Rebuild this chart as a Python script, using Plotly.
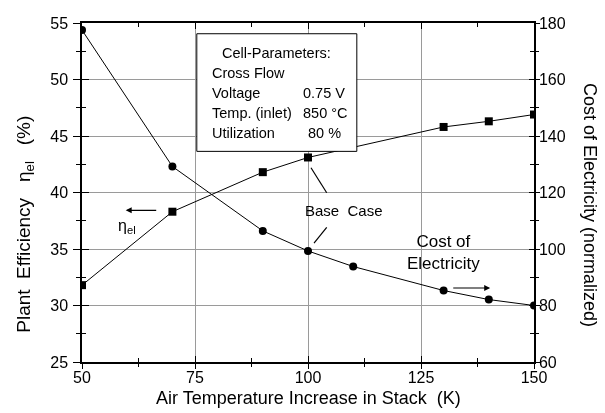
import plotly.graph_objects as go

# ---- data ----
temp_eff = [50, 70, 90, 100, 130, 140, 150]
efficiency = [31.8, 38.3, 41.8, 43.1, 45.8, 46.3, 46.9]
temp_cost = [50, 70, 90, 100, 110, 130, 140, 150]
cost = [177.5, 129.2, 106.4, 99.3, 93.8, 85.3, 82.1, 80.0]

x_ticks = [50, 75, 100, 125, 150]
y_left_ticks = [25, 30, 35, 40, 45, 50, 55]
y_right_ticks = [60, 80, 100, 120, 140, 160, 180]

box_lines = [("Cross Flow", ""), ("Voltage", "0.75 V"), ("Temp. (inlet)", "850 °C"), ("Utilization", "80 %")]

NB = "\u00a0"
FONT = "Liberation Sans, Arial, sans-serif"
fig = go.Figure()

fig.add_trace(go.Scatter(x=temp_eff, y=efficiency, mode="lines+markers",
                         line=dict(color="black", width=1),
                         marker=dict(symbol="square", size=8, color="black"),
                         xaxis="x", yaxis="y", showlegend=False))
fig.add_trace(go.Scatter(x=temp_cost, y=cost, mode="lines+markers",
                         line=dict(color="black", width=1),
                         marker=dict(symbol="circle", size=8, color="black"),
                         xaxis="x", yaxis="y2", showlegend=False))
# transparent copies to register the tick-overlay axes
fig.add_trace(go.Scatter(x=temp_eff, y=efficiency, mode="markers", opacity=0, hoverinfo="skip",
                         xaxis="x3", yaxis="y3", showlegend=False))
fig.add_trace(go.Scatter(x=temp_cost, y=cost, mode="markers", opacity=0, hoverinfo="skip",
                         xaxis="x3", yaxis="y4", showlegend=False))

tickfont = dict(family=FONT, size=16, color="black")
minor_common = dict(tickcolor="black", showgrid=False, tickwidth=1)

fig.update_layout(
    width=605, height=413,
    margin=dict(l=82, r=71, t=23, b=51),
    plot_bgcolor="white", paper_bgcolor="white",
    font=dict(family=FONT, color="black"),
    xaxis=dict(range=[50, 150], tickvals=x_ticks, ticks="inside", ticklen=6, tickwidth=1,
               tickcolor="black", showline=True, linecolor="black", linewidth=1.5, mirror="ticks",
               showgrid=True, gridcolor="#9a9a9a", gridwidth=1,
               zeroline=False, tickfont=tickfont,
               minor=dict(tick0=50, dtick=12.5, ticks="inside", ticklen=4, **minor_common)),
    xaxis3=dict(range=[50, 150], overlaying="x", side="bottom", anchor="y", tickvals=x_ticks,
                ticks="outside", ticklen=6, tickwidth=1, tickcolor="black", showticklabels=False,
                showgrid=False, showline=False, zeroline=False,
                minor=dict(tick0=50, dtick=12.5, ticks="outside", ticklen=4, **minor_common)),
    yaxis=dict(range=[25, 55], tickvals=y_left_ticks, ticks="outside", ticklen=7, tickwidth=1,
               tickcolor="black", showline=True, linecolor="black", linewidth=1.5, showgrid=True,
               gridcolor="#9a9a9a", zeroline=False, tickfont=tickfont, ticklabelstandoff=2,
               minor=dict(tick0=25, dtick=2.5, ticks="outside", ticklen=4, **minor_common)),
    yaxis3=dict(range=[25, 55], overlaying="y", side="left", anchor="x", tickvals=y_left_ticks,
                ticks="inside", ticklen=7, tickwidth=1, tickcolor="black", showticklabels=False,
                showgrid=False, showline=False, zeroline=False,
                minor=dict(tick0=25, dtick=2.5, ticks="inside", ticklen=4, **minor_common)),
    yaxis2=dict(range=[60, 180], overlaying="y", side="right", anchor="x", tickvals=y_right_ticks,
                ticks="inside", ticklen=5, tickwidth=1, tickcolor="black", showline=True,
                linecolor="black", linewidth=1.5, showgrid=False, zeroline=False, tickfont=tickfont,
                minor=dict(tick0=60, dtick=10, ticks="inside", ticklen=4, **minor_common)),
    yaxis4=dict(range=[60, 180], overlaying="y", side="right", anchor="x", tickvals=y_right_ticks,
                ticks="outside", ticklen=5, tickwidth=1, tickcolor="black", showticklabels=False,
                showgrid=False, showline=False, zeroline=False,
                minor=dict(tick0=60, dtick=10, ticks="outside", ticklen=4, **minor_common)),
)

# parameter box
fig.add_shape(type="rect", xref="x", yref="y", x0=75.4, x1=110.8, y0=43.64, y1=54.05,
              line=dict(color="black", width=1), fillcolor="white", layer="above")
ann = []
ann.append(dict(x=93.1, y=52.37, xref="x", yref="y", text="Cell-Parameters:", showarrow=False,
                font=dict(size=14.5), xanchor="center", yanchor="middle"))
line_y = [50.58, 48.81, 47.04, 45.27]
right_x = [None, 98.45, 98.4, 99.6]
for (lab, val), yy, rx in zip(box_lines, line_y, right_x):
    ann.append(dict(x=78.3, y=yy, xref="x", yref="y", text=lab, showarrow=False,
                    font=dict(size=14.5), xanchor="left", yanchor="middle"))
    if val:
        ann.append(dict(x=rx, y=yy, xref="x", yref="y", text=val, showarrow=False,
                        font=dict(size=14.5), xanchor="left", yanchor="middle"))

# Base case
ann.append(dict(x=107.96, y=38.4, xref="x", yref="y", text="Base" + NB + NB + "Case", showarrow=False,
                font=dict(size=15), xanchor="center", yanchor="middle"))
fig.add_shape(type="line", xref="x", yref="y", x0=100.66, y0=42.19, x1=104.14, y1=39.98,
              line=dict(color="black", width=1.2))
fig.add_shape(type="line", xref="x", yref="y", x0=101.33, y0=35.53, x1=104.14, y1=36.91,
              line=dict(color="black", width=1.2))

# eta arrow
ann.append(dict(x=59.67, y=38.42, ax=66.75, ay=38.42, xref="x", yref="y", axref="x", ayref="y",
                text="", showarrow=True, arrowhead=2, arrowsize=1, arrowwidth=1.2, arrowcolor="black"))
ann.append(dict(x=59.96, y=37.0, xref="x", yref="y", text="η<sub>el</sub>", showarrow=False,
                font=dict(size=16), xanchor="center", yanchor="middle"))

# cost arrow
ann.append(dict(x=130.0, y=34.65, xref="x", yref="y", text="Cost of<br>Electricity", showarrow=False,
                font=dict(size=17), xanchor="center", yanchor="middle"))
ann.append(dict(x=140.3, y=31.55, ax=131.8, ay=31.55, xref="x", yref="y", axref="x", ayref="y",
                text="", showarrow=True, arrowhead=2, arrowsize=1, arrowwidth=1.2, arrowcolor="black"))

# axis titles
ann.append(dict(x=0.5, y=-0.106, xref="paper", yref="paper",
                text="Air Temperature Increase in Stack" + NB + NB + "(K)",
                showarrow=False, font=dict(size=18), xanchor="center", yanchor="middle"))
ann.append(dict(x=-0.126, y=0.405, xref="paper", yref="paper",
                text="Plant" + NB * 2 + "Efficiency" + NB * 3 + "η<sub>el</sub>" + NB * 3 + "(%)",
                showarrow=False, font=dict(size=19), textangle=-90, xanchor="center", yanchor="middle"))
ann.append(dict(x=1.124, y=0.463, xref="paper", yref="paper", text="Cost of Electricity (normalized)",
                showarrow=False, font=dict(size=18), textangle=90, xanchor="center", yanchor="middle"))

fig.update_layout(annotations=ann)
fig.write_html("out.html")
